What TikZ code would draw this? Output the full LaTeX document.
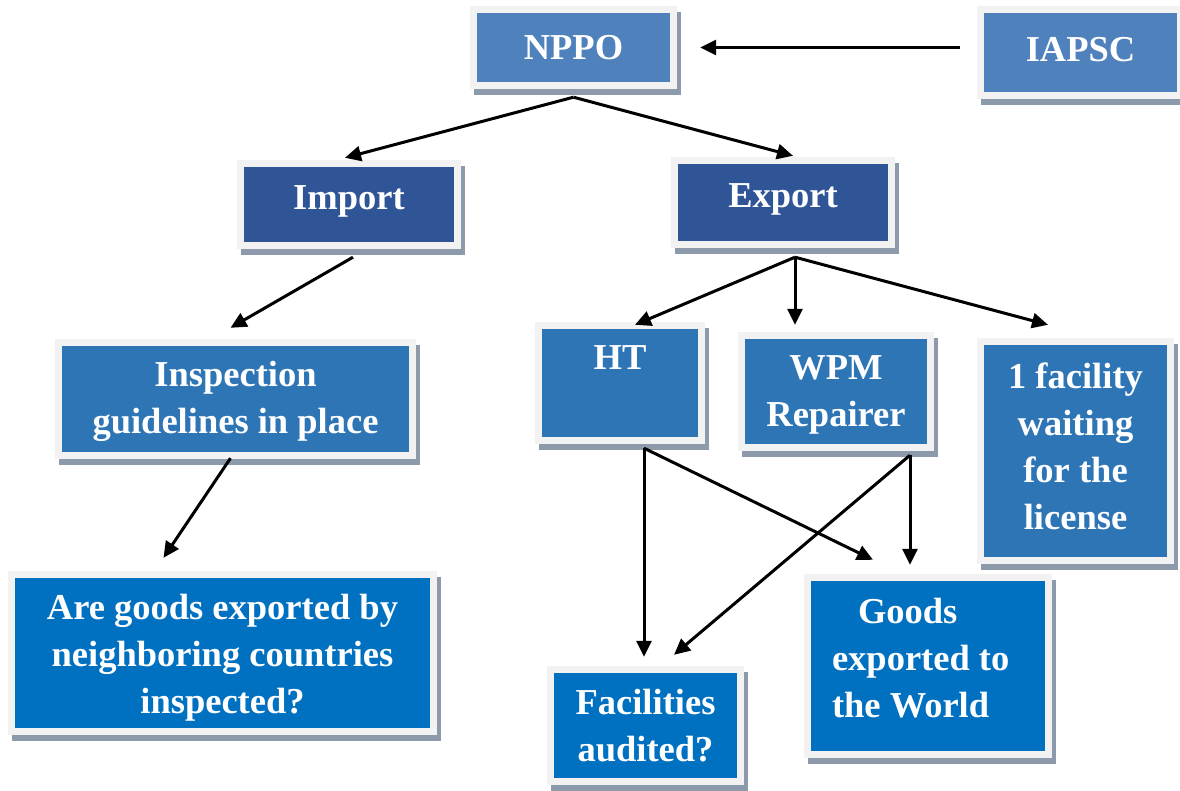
\documentclass[tikz,border=0pt]{standalone}
\usepackage{fontspec}
\setmainfont{Liberation Serif}
\usetikzlibrary{shadows,arrows.meta}
\definecolor{framec}{RGB}{242,242,242}
\definecolor{shadowc}{RGB}{140,154,172}
\definecolor{topblue}{RGB}{79,129,189}
\definecolor{darkblue}{RGB}{47,85,151}
\definecolor{midblue}{RGB}{46,117,182}
\definecolor{brightblue}{RGB}{0,112,192}
\tikzset{
  txt/.style={text=white, font=\bfseries\fontsize{36.5}{47}\selectfont, align=center},
  box/.style={fill=framec, inner sep=0pt, txt,
    drop shadow={shadow xshift=4pt, shadow yshift=-6pt, fill=shadowc, opacity=1},
    path picture={\fill[#1] ([shift={(7pt,-7pt)}]path picture bounding box.north west)
      rectangle ([shift={(-7pt,7pt)}]path picture bounding box.south east);}},
  arr/.style={line width=3pt, -{Triangle[length=16pt,width=15pt]}}
}
\begin{document}
\begin{tikzpicture}[x=1pt,y=-1pt]
\fill[white] (0,0) rectangle (1180,791);
\useasboundingbox (0,0) rectangle (1180,791);
% boxes (frame size)
\node[box=topblue, minimum width=207pt, minimum height=83pt] (nppo) at (573.5,47.5) {NPPO};
\node[box=topblue, minimum width=207pt, minimum height=93pt, text depth=6pt] (iapsc) at (1080.5,52.5) {IAPSC};
\node[box=darkblue, minimum width=224pt, minimum height=89pt, text depth=14pt] (import) at (349,204.5) {Import};
\node[box=darkblue, minimum width=224pt, minimum height=91pt, text depth=14pt] (export) at (783,202.5) {Export};
\node[box=midblue, minimum width=361pt, minimum height=120pt] (insp) at (235.5,399) {\rule{0pt}{31pt}Inspection\\guidelines in place};
\node[box=midblue, minimum width=170pt, minimum height=122pt, text depth=50pt] (ht) at (620,383) {HT};
\node[box=midblue, minimum width=196pt, minimum height=119pt] (wpm) at (836,391.5) {\rule{0pt}{31pt}WPM\\Repairer};
\node[box=midblue, minimum width=197pt, minimum height=226pt] (fac1) at (1075.5,451) {1 facility\\waiting\\for the\\license\rule[-10pt]{0pt}{10pt}};
\node[box=brightblue, minimum width=429pt, minimum height=164pt] (goods) at (222.5,653) {\rule{0pt}{35pt}Are goods exported by\\neighboring countries\\inspected?};
\node[box=brightblue, minimum width=197pt, minimum height=119pt] (audit) at (645.5,725.5) {Facilities\\audited?};
\node[box=brightblue, minimum width=248pt, minimum height=184pt, text width=192pt, align=flush left] (world) at (928,666) {\hspace*{26pt}Goods\\exported to\\the World\rule[-16pt]{0pt}{16pt}};
% connectors
\draw[arr] ([xshift=-17pt,yshift=5pt]iapsc.west) -- ([xshift=23pt]nppo.east);
\draw[arr] ([yshift=-8pt]nppo.south) -- ([xshift=-4pt,yshift=2pt]import.north);
\draw[arr] ([yshift=-8pt]nppo.south) -- ([xshift=10pt,yshift=1pt]export.north);
\draw[arr] ([xshift=4pt,yshift=-8pt]import.south) -- ([xshift=-5pt,yshift=11pt]insp.north);
\draw[arr] ([xshift=-5pt,yshift=1pt]insp.south) -- ([xshift=-59pt,yshift=13pt]goods.north);
\draw[arr] ([xshift=12pt,yshift=-9pt]export.south) -- ([xshift=15pt,yshift=-3pt]ht.north);
\draw[arr] ([xshift=12pt,yshift=-9pt]export.south) -- ([xshift=-41pt,yshift=7pt]wpm.north);
\draw[arr] ([xshift=12pt,yshift=-9pt]export.south) -- ([xshift=-27.5pt,yshift=13pt]fac1.north);
\draw[arr] ([xshift=24pt,yshift=-4pt]ht.south) -- ([xshift=-1.5pt,yshift=9pt]audit.north);
\draw[arr] ([xshift=24pt,yshift=-4pt]ht.south) -- ([xshift=-55pt,yshift=14pt]world.north);
\draw[arr] ([xshift=74pt,yshift=-4pt]wpm.south) -- ([xshift=28.5pt,yshift=11pt]audit.north);
\draw[arr] ([xshift=74pt,yshift=-4pt]wpm.south) -- ([xshift=-18pt,yshift=9pt]world.north);
\end{tikzpicture}
\end{document}
